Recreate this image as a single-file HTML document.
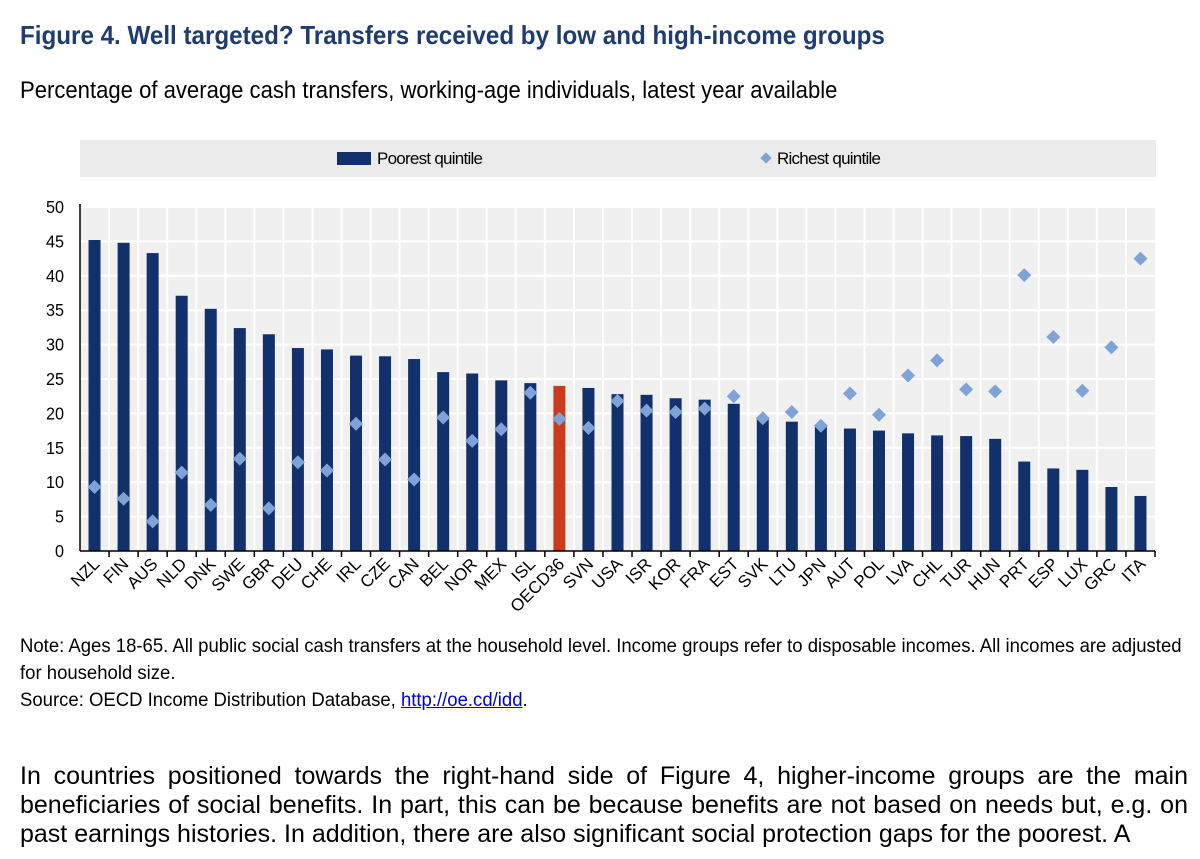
<!DOCTYPE html>
<html><head><meta charset="utf-8"><style>
body{margin:0;background:#fff;width:1200px;height:859px;overflow:hidden;font-family:"Liberation Sans",sans-serif}
.t{position:absolute;white-space:nowrap;transform-origin:0 0}
</style></head><body>
<div class="t" style="left:20px;top:20px;font-size:26px;font-weight:bold;color:#1f3c6e;transform:scaleX(0.93)">Figure 4. Well targeted? Transfers received by low and high-income groups</div>
<div class="t" style="left:20px;top:77px;font-size:24px;color:#000;transform:scaleX(0.92)">Percentage of average cash transfers, working-age individuals, latest year available</div>
<svg id="chart" width="1200" height="620" style="position:absolute;left:0;top:0" font-family="Liberation Sans, sans-serif">
<rect x="80" y="140" width="1076" height="37" fill="#ebebeb"/>
<rect x="337" y="152" width="34" height="13" fill="#12306b"/>
<text x="377" y="164" font-size="17" textLength="106">Poorest quintile</text>
<rect x="762" y="154" width="8" height="8" fill="#7fa3d6" transform="rotate(45 766 158)"/>
<text x="777" y="164" font-size="17" textLength="104">Richest quintile</text>
<g id="plot"></g>
</svg>
<div class="t" style="left:20px;top:633px;font-size:19px;line-height:27px;white-space:normal;width:1210px;transform:scaleX(0.975)">Note: Ages 18-65. All public social cash transfers at the household level. Income groups refer to disposable incomes. All incomes are adjusted<br>for household size.<br>Source: OECD Income Distribution Database, <span style="color:#00c;text-decoration:underline">http://oe.cd/idd</span>.</div>
<div class="t" style="left:20px;top:762px;font-size:25px;line-height:29px;white-space:normal;width:1168px;text-align:justify">In countries positioned towards the right-hand side of Figure 4, higher-income groups are the main beneficiaries of social benefits. In part, this can be because benefits are not based on needs but, e.g. on past earnings histories. In addition, there are also significant social protection gaps for the poorest. A</div>
<script>
const categories=["NZL","FIN","AUS","NLD","DNK","SWE","GBR","DEU","CHE","IRL","CZE","CAN","BEL","NOR","MEX","ISL","OECD36","SVN","USA","ISR","KOR","FRA","EST","SVK","LTU","JPN","AUT","POL","LVA","CHL","TUR","HUN","PRT","ESP","LUX","GRC","ITA"];
const poorest=[45.2,44.8,43.3,37.1,35.2,32.4,31.5,29.5,29.3,28.4,28.3,27.9,26.0,25.8,24.8,24.4,24.0,23.7,22.8,22.7,22.2,22.0,21.4,19.3,18.8,18.3,17.8,17.5,17.1,16.8,16.7,16.3,13.0,12.0,11.8,9.3,8.0];
const richest=[9.3,7.6,4.3,11.4,6.7,13.4,6.2,12.9,11.7,18.5,13.3,10.4,19.4,16.0,17.7,23.0,19.2,17.9,21.8,20.4,20.2,20.7,22.5,19.3,20.2,18.2,22.9,19.8,25.5,27.7,23.5,23.2,40.1,31.1,23.3,29.6,42.5];
const yTicks=[0,5,10,15,20,25,30,35,40,45,50];
const X0=80,X1=1155,Y0=551,Y1=207,YMAX=50;
const band=(X1-X0)/categories.length;
const y=v=>Y0-(v/YMAX)*(Y0-Y1);
const xc=i=>X0+band*(i+0.5);
const g=document.getElementById('plot');
const NS='http://www.w3.org/2000/svg';
function mk(t,a){const e=document.createElementNS(NS,t);for(const k in a)e.setAttribute(k,a[k]);g.appendChild(e);return e;}
let e=mk('rect',{x:X0,y:Y1,width:X1-X0,height:Y0-Y1,fill:'#f0f0f0'});


yTicks.forEach(t=>{
 if(t>0){const l=mk('line',{x1:X0,x2:X1,y1:y(t),y2:y(t),stroke:'#fff','stroke-width':2});
 
 }
 const tx=mk('text',{x:X0-16,y:y(t)+6,'font-size':18,'text-anchor':'end',transform:`translate(${X0-16} 0) scale(0.9 1) translate(${-(X0-16)} 0)`});tx.textContent=t;
 
 
});
for(let i=1;i<categories.length;i++){
 const l=mk('line',{x1:X0+band*i,x2:X0+band*i,y1:Y1,y2:Y0,stroke:'#fff','stroke-width':2});
 
 
}
categories.forEach((c,i)=>{
 const b=mk('rect',{x:xc(i)-6,y:y(poorest[i]),width:12,height:Y0-y(poorest[i]),fill:c==='OECD36'?'#cc3a1e':'#12306b'});
 
 
});
categories.forEach((c,i)=>{
 const cy=y(richest[i]),cx=xc(i);
 const d=mk('polygon',{points:`${cx},${cy-7} ${cx+7},${cy} ${cx},${cy+7} ${cx-7},${cy}`,fill:'#7fa3d6'});
 
 
 const tk=mk('line',{x1:X0+band*(i+1),x2:X0+band*(i+1),y1:Y0,y2:Y0+6,stroke:'#000','stroke-width':1.5});
 
 
 const t=mk('text',{x:cx+6,y:Y0+14,'font-size':17,'text-anchor':'end',transform:`rotate(-45 ${cx+6} ${Y0+14})`});
 t.textContent=c;
 
 
});
e=mk('line',{x1:X0,x2:X0,y1:Y1-3,y2:Y0,stroke:'#000','stroke-width':1.5});


e=mk('line',{x1:X0,x2:X1,y1:Y0,y2:Y0,stroke:'#000','stroke-width':1.5});


</script>
</body></html>
